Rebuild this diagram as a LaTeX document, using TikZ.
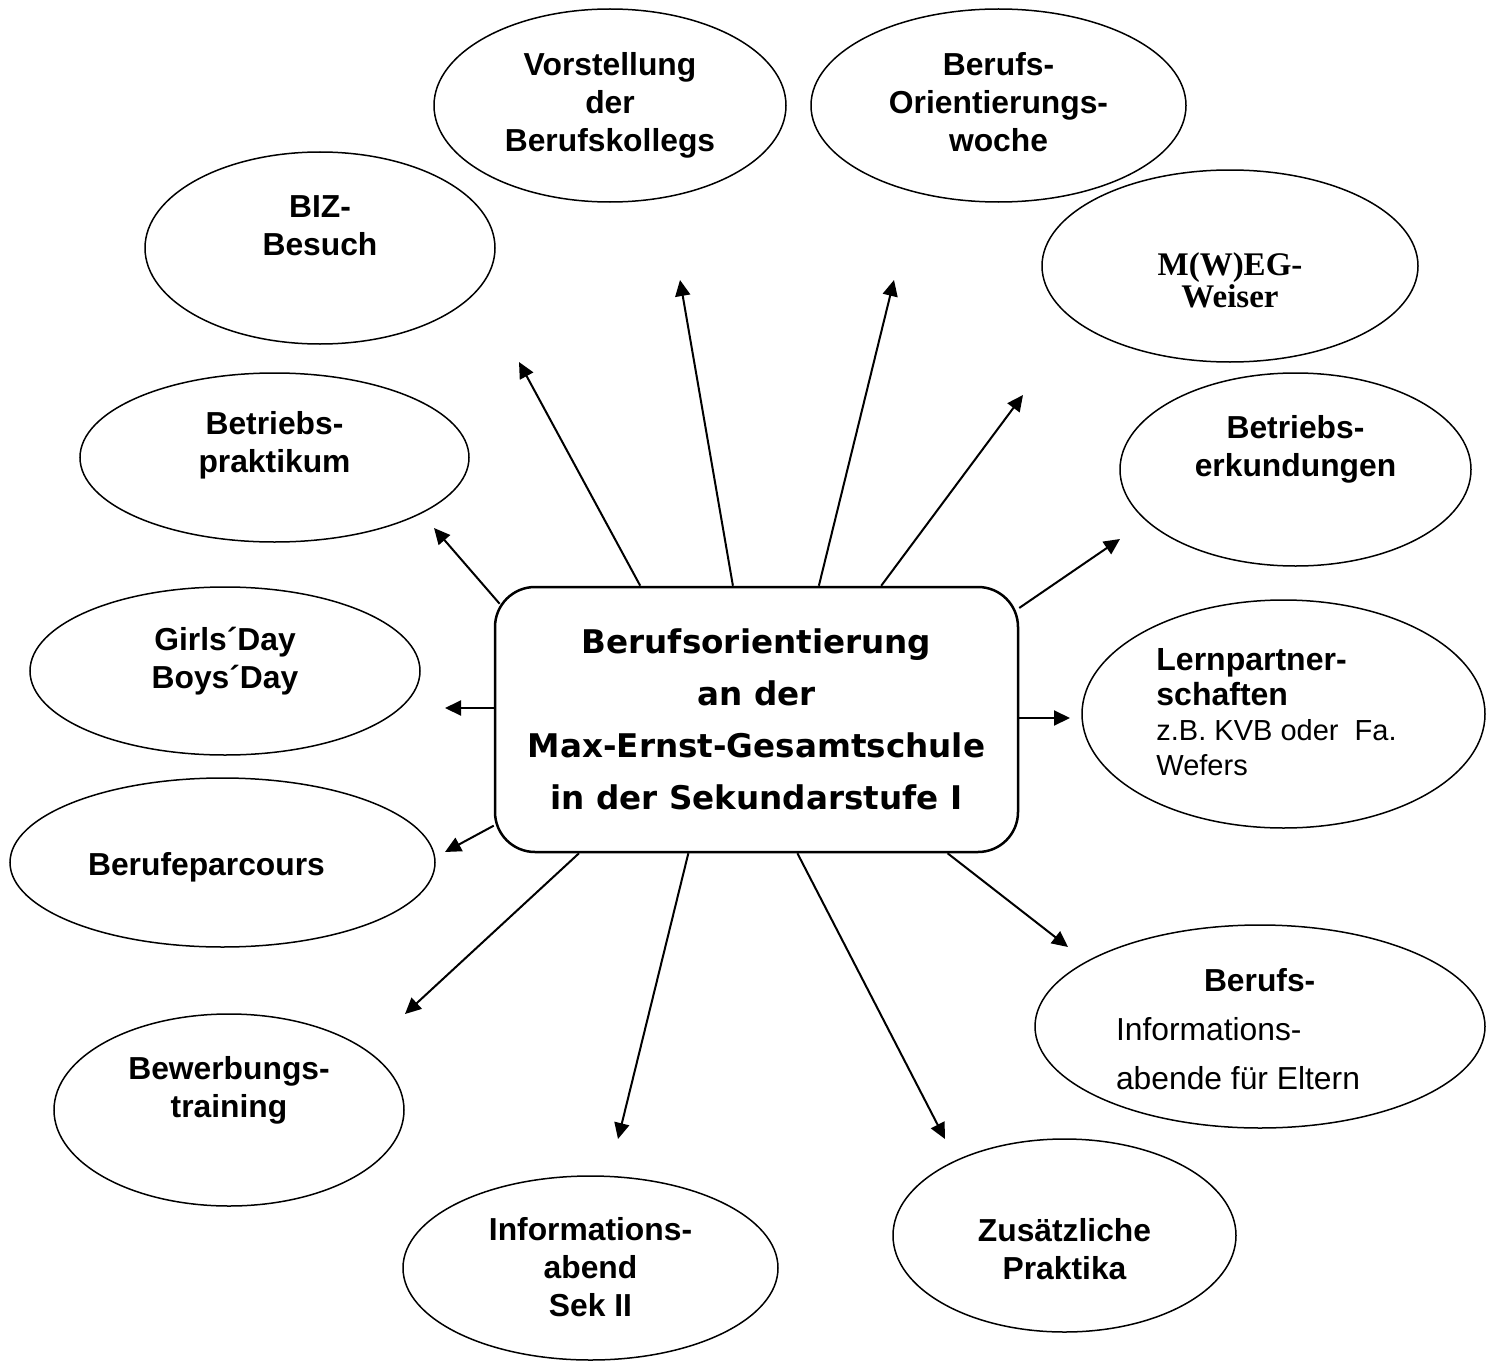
\documentclass[tikz,border=0pt]{standalone}
\usepackage{fontspec}
\setmainfont{Liberation Sans}
\newfontfamily\weiserfont{Liberation Serif}
\newfontfamily\boxfont{DejaVu Sans}
\usetikzlibrary{shapes,arrows.meta}

\begin{document}
\begin{tikzpicture}[x=1pt,y=-1pt,
  bubble/.style={shape=ellipse,draw=black,line width=1.5pt,inner sep=0pt},
  txt/.style={align=center,font=\bfseries\fontsize{31.8}{38}\selectfont},
  pfeil/.style={-{Triangle[length=16pt,width=15pt]},line width=2pt}]
\useasboundingbox (0,0) rectangle (1491,1362);

\node[shape=rectangle,rounded corners=40pt,draw=black,line width=2.5pt,minimum width=523pt,minimum height=265pt,align=center,font=\boxfont\bfseries\fontsize{32.6}{52}\selectfont] (box) at (756.5,719.5) {Berufsorientierung\\an der\\Max-Ernst-Gesamtschule\\in der Sekundarstufe I};

\node[bubble,minimum width=352pt,minimum height=193pt,label={[txt,yshift=0pt]center:{Vorstellung\\der\\Berufskollegs}}] (kolleg) at (610,105.5) {};
\node[bubble,minimum width=375pt,minimum height=193pt,label={[txt,yshift=3pt]center:{Berufs-\\Orientierungs-\\woche}}] (woche) at (998.5,105.5) {};
\node[bubble,minimum width=350pt,minimum height=192pt,label={[txt,yshift=22pt]center:{BIZ-\\Besuch}}] (biz) at (320,248) {};
\node[bubble,minimum width=376pt,minimum height=192pt,label={[align=center,font=\weiserfont\bfseries\fontsize{33}{32}\selectfont,yshift=-14pt]center:{M(W)EG-\\Weiser}}] (weiser) at (1230,266) {};
\node[bubble,minimum width=389pt,minimum height=169pt,label={[txt,yshift=12pt]center:{Betriebs-\\praktikum}}] (praktikum) at (274.5,457.5) {};
\node[bubble,minimum width=351pt,minimum height=193pt,label={[txt,yshift=20pt]center:{Betriebs-\\erkundungen}}] (erkund) at (1295.5,469.5) {};
\node[bubble,minimum width=403pt,minimum height=228pt,label={[align=left,font=\fontsize{29}{35}\selectfont,xshift=-7pt,yshift=2pt]center:{\textbf{\fontsize{32}{35}\selectfont Lernpartner-}\\\textbf{\fontsize{32}{35}\selectfont schaften}\\z.B. KVB oder\ \ Fa.\\Wefers}}] (lern) at (1283.5,714) {};
\node[bubble,minimum width=390pt,minimum height=168pt,label={[txt,yshift=10pt]center:{Girls´Day\\Boys´Day}}] (girls) at (225,671) {};
\node[bubble,minimum width=425pt,minimum height=169pt,label={[txt,xshift=-16pt,yshift=-5pt]center:{Berufeparcours}}] (parcours) at (222.5,862.5) {};
\node[bubble,minimum width=350pt,minimum height=192pt,label={[txt,yshift=20pt]center:{Bewerbungs-\\training}}] (bewerb) at (229,1110) {};
\node[bubble,minimum width=375pt,minimum height=184pt,label={[txt,yshift=1pt]center:{Informations-\\abend\\Sek II}}] (sek) at (590.5,1268) {};
\node[bubble,minimum width=450pt,minimum height=203pt,label={[align=left,font=\fontsize{31.8}{49}\selectfont,xshift=-22pt,yshift=-3pt]center:{\hspace*{88pt}\textbf{Berufs-}\\Informations-\\abende für Eltern}}] (eltern) at (1260,1026.5) {};
\node[bubble,minimum width=343pt,minimum height=193pt,label={[txt,yshift=-14pt]center:{Zusätzliche\\Praktika}}] (zusatz) at (1064.5,1235.5) {};

\coordinate (to-praktikum) at (434,528);
\coordinate (to-biz) at (519,362);
\coordinate (to-kolleg) at (680,280);
\coordinate (to-woche) at (894,280);
\coordinate (to-weiser) at (1023,395);
\coordinate (to-erkund) at (1120,539);
\coordinate (to-lern) at (1070,718);
\coordinate (to-girls) at (445,708);
\coordinate (to-parcours) at (445,852);
\coordinate (to-bewerb) at (405,1014);
\coordinate (to-sek) at (618,1139);
\coordinate (to-zusatz) at (945,1139);
\coordinate (to-eltern) at (1068,947);

\draw[pfeil,shorten <=-9pt] (box.155) -- (to-praktikum);
\draw[pfeil] (box.131) -- (to-biz);
\draw[pfeil] (box.100) -- (to-kolleg);
\draw[pfeil] (box.65) -- (to-woche);
\draw[pfeil] (box.47.5) -- (to-weiser);
\draw[pfeil] (box.23) -- (to-erkund);
\draw[pfeil] (box.east |- to-lern) -- (to-lern);
\draw[pfeil] (box.west |- to-girls) -- (to-girls);
\draw[pfeil] (box.202) -- (to-parcours);
\draw[pfeil] (box.217) -- (to-bewerb);
\draw[pfeil] (box.243) -- (to-sek);
\draw[pfeil] (box.287) -- (to-zusatz);
\draw[pfeil] (box.325) -- (to-eltern);
\end{tikzpicture}
\end{document}
